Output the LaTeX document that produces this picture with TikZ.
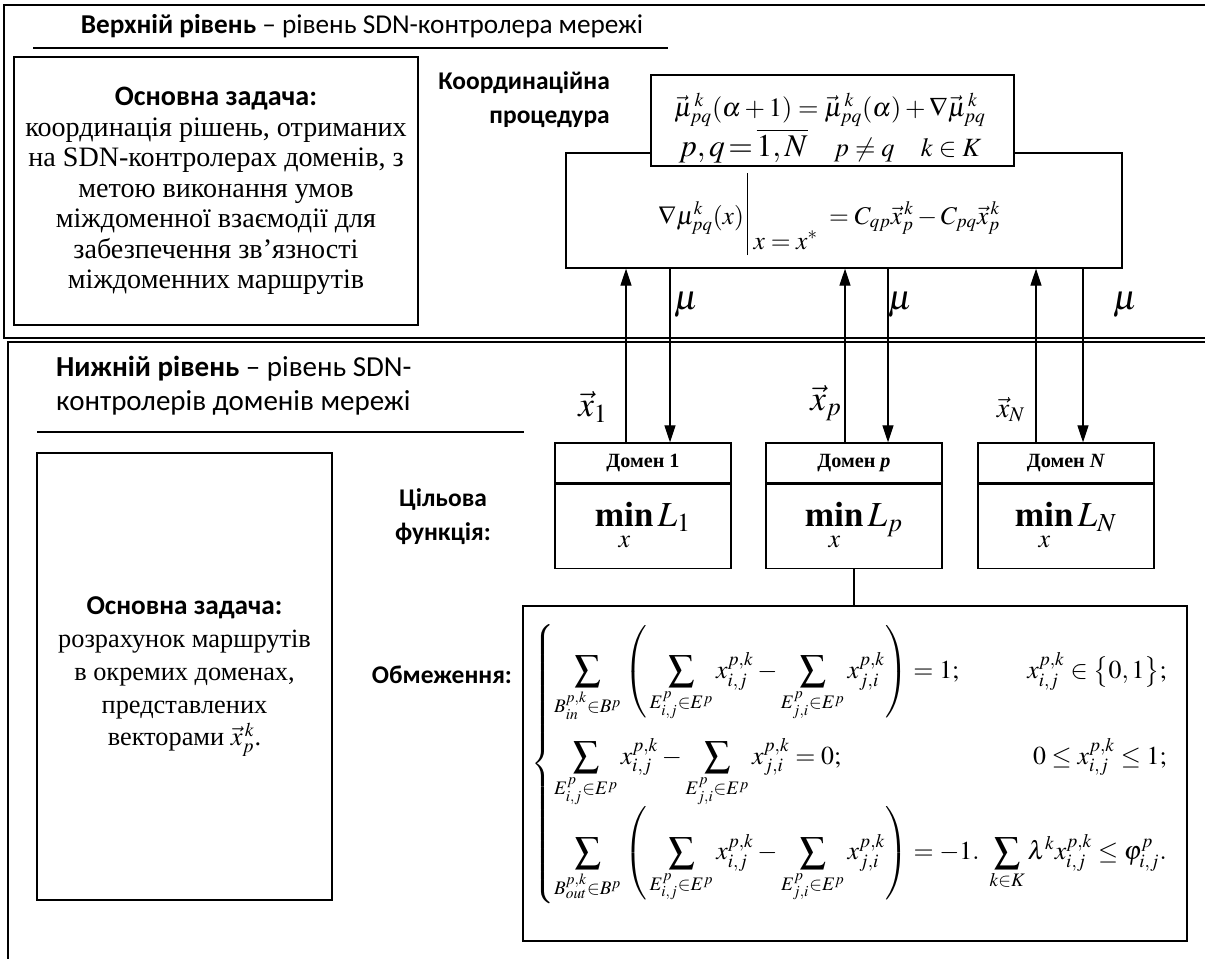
\documentclass[tikz,border=0pt]{standalone}
\usepackage{amsmath,amssymb}
\usepackage{mathptmx}
\usepackage{fontspec}
\setmainfont{Liberation Serif}
\newfontfamily\headfont{Carlito}
\usetikzlibrary{arrows.meta,positioning,calc}
\tikzset{
  frame/.style={draw, line width=0.9pt},
  taskbox/.style={draw, line width=0.8pt, align=center, inner sep=0pt},
  headtext/.style={font=\headfont\fontsize{14.5}{19.3}\selectfont},
  domhead/.style={draw, line width=0.8pt, minimum width=3.52cm, minimum height=0.8cm, inner sep=0pt, font=\bfseries\fontsize{11.5}{13}\selectfont},
  dombody/.style={draw, line width=0.8pt, minimum width=3.52cm, minimum height=1.68cm, inner sep=0pt, font=\fontsize{20}{22}\selectfont},
  flow/.style={-{Triangle[length=3.4mm,width=2.2mm]}, line width=0.7pt},
  siglbl/.style={font=\fontsize{20}{22}\selectfont},
}

\begin{document}
\begin{tikzpicture}[x=0.02cm, y=-0.02cm]
  \useasboundingbox (0,0) rectangle (1205,958);
  \clip (0,0) rectangle (1205,958);
  % frames of the two levels
  \draw[frame] (4,5) rectangle (1230,338);
  \draw[frame] (8,342) rectangle (1230,990);

  % upper level
  \node[headtext, font=\headfont\fontsize{15.5}{19}\selectfont] (upper) at (362,26) {\textbf{Верхній рівень} – рівень SDN-контролера мережі};
  \draw[line width=0.7pt] (33,48) -- (668,48);
  \node[taskbox, minimum width=8.08cm, minimum height=5.36cm, font=\fontsize{16}{17.4}\selectfont] (uptask) at (216,191)
    {{\headfont\bfseries\fontsize{16}{17.4}\selectfont Основна задача:}\\
     координація рішень, отриманих\\
     на SDN-контролерах доменів, з\\
     метою виконання умов\\
     міждоменної взаємодії для\\
     забезпечення зв’язності\\
     міждоменних маршрутів};
  \node[headtext, align=right, anchor=east] (coordlbl) at (616,100) {\textbf{Координаційна}\\\textbf{процедура}};
  \node[draw, line width=0.8pt, minimum width=11.12cm, minimum height=2.3cm] (coord) at (844,210.5) {};
  \node[anchor=base west, font=\fontsize{14.5}{18}\selectfont] (grad) at (652,224)
    {$\nabla\mu^{k}_{pq}(x)\,\rule[-0.62cm]{0.7pt}{1.64cm}\;\raisebox{-0.5cm}{$x = x^{*}$}\; = C_{qp}\vec{x}^{\,k}_{p} - C_{pq}\vec{x}^{\,k}_{p}$};
  \node[draw, fill=white, line width=0.8pt, minimum width=7.26cm, minimum height=1.82cm] (update) at (832.5,120.5) {};
  \node[align=center, font=\fontsize{15}{20}\selectfont] (updtext) at (830,128)
    {$\vec{\mu}^{\,k}_{pq}(\alpha+1) = \vec{\mu}^{\,k}_{pq}(\alpha) + \nabla\vec{\mu}^{\,k}_{pq}$\\
     $\mbox{\fontsize{18}{20}\selectfont$p,q\,{=}\,\overline{1,N}$}\quad p\neq q\quad k\in K$};

  % lower level
  \node[headtext, anchor=west, align=left, font=\headfont\fontsize{16.5}{19.5}\selectfont] (lower) at (50,386) {\textbf{Нижній рівень} – рівень SDN-\\контролерів доменів мережі};
  \draw[line width=0.7pt] (37,432) -- (524,432);
  \node[taskbox, minimum width=5.9cm, minimum height=8.94cm, font=\fontsize{15}{18.7}\selectfont] (lowtask) at (184.5,676.5)
    {{\headfont\bfseries\fontsize{15.5}{18.7}\selectfont Основна задача:}\\
     розрахунок маршрутів\\
     в окремих доменах,\\
     представлених\\
     векторами $\vec{x}^{\,k}_{p}$.};
  \node[headtext, align=center] (goal) at (443,517) {\textbf{Цільова}\\\textbf{функція:}};
  \node[headtext] (limits) at (442,675) {\textbf{Обмеження:}};

  % domain controllers
  \node[domhead] (dom1) at (643,463) {Домен 1};
  \node[dombody, below=0pt of dom1] (min1) {$\mathop{\mathbf{min}}\limits_{x} L_{1}$};
  \node[domhead] (domp) at (854,463) {Домен \textit{p}};
  \node[dombody, below=0pt of domp] (minp) {$\mathop{\mathbf{min}}\limits_{x} L_{p}$};
  \node[domhead] (domN) at (1066,463) {Домен \textit{N}};
  \node[dombody, below=0pt of domN] (minN) {$\mathop{\mathbf{min}}\limits_{x} L_{N}$};

  % exchange between the levels
  \foreach \d/\u/\v in {1/-17/27, p/-9/34, N/-30/17}{
    \coordinate (up\d) at ($(dom\d.north)+(\u,0)$);
    \coordinate (dn\d) at ($(dom\d.north)+(\v,0)$);
    \draw[flow] (up\d) -- (up\d |- coord.south);
    \draw[flow] (dn\d |- coord.south) -- (dn\d);
  }
  \node[siglbl] (mu1) at (686,305) {$\mu$};
  \node[siglbl] (mup) at (900,305) {$\mu$};
  \node[siglbl] (muN) at (1125,305) {$\mu$};
  \node[siglbl] (x1) at (593,407) {$\vec{x}_{1}$};
  \node[siglbl] (xp) at (826,403) {$\vec{x}_{p}$};
  \node[siglbl, font=\fontsize{16}{18}\selectfont] (xN) at (1011,410) {$\vec{x}_{N}$};

  % constraints of the domain problem
  \node[draw, line width=0.8pt, minimum width=13.28cm, minimum height=6.7cm] (cons) at (855,773.5) {};
  \draw[line width=0.7pt] (minp.south) -- (minp.south |- cons.north);
  \node[anchor=west, font=\fontsize{14.7}{17}\selectfont] (sys) at (525,764)
    {$\left\{\begin{array}{@{}l@{\hspace{0.2cm}}r@{}}
      \displaystyle\sum_{B^{p,k}_{in}\in B^{p}}\left(\,\sum_{E^{p}_{i,j}\in E^{p}} x^{p,k}_{i,j} - \sum_{E^{p}_{j,i}\in E^{p}} x^{p,k}_{j,i}\right) = 1\mathbf{;} &
      x^{p,k}_{i,j}\in\bigl\{0,1\bigr\}\mathbf{;}\\[29pt]
      \displaystyle\sum_{E^{p}_{i,j}\in E^{p}} x^{p,k}_{i,j} - \sum_{E^{p}_{j,i}\in E^{p}} x^{p,k}_{j,i} = 0\mathbf{;} &
      0\le x^{p,k}_{i,j}\le 1\mathbf{;}\\[13pt]
      \displaystyle\sum_{B^{p,k}_{out}\in B^{p}}\left(\,\sum_{E^{p}_{i,j}\in E^{p}} x^{p,k}_{i,j} - \sum_{E^{p}_{j,i}\in E^{p}} x^{p,k}_{j,i}\right) = -1\mathbf{.} &
      \displaystyle\sum_{k\in K}\lambda^{k}x^{p,k}_{i,j}\le\varphi^{p}_{i,j}\mathbf{.}
    \end{array}\right.$};
\end{tikzpicture}
\end{document}
